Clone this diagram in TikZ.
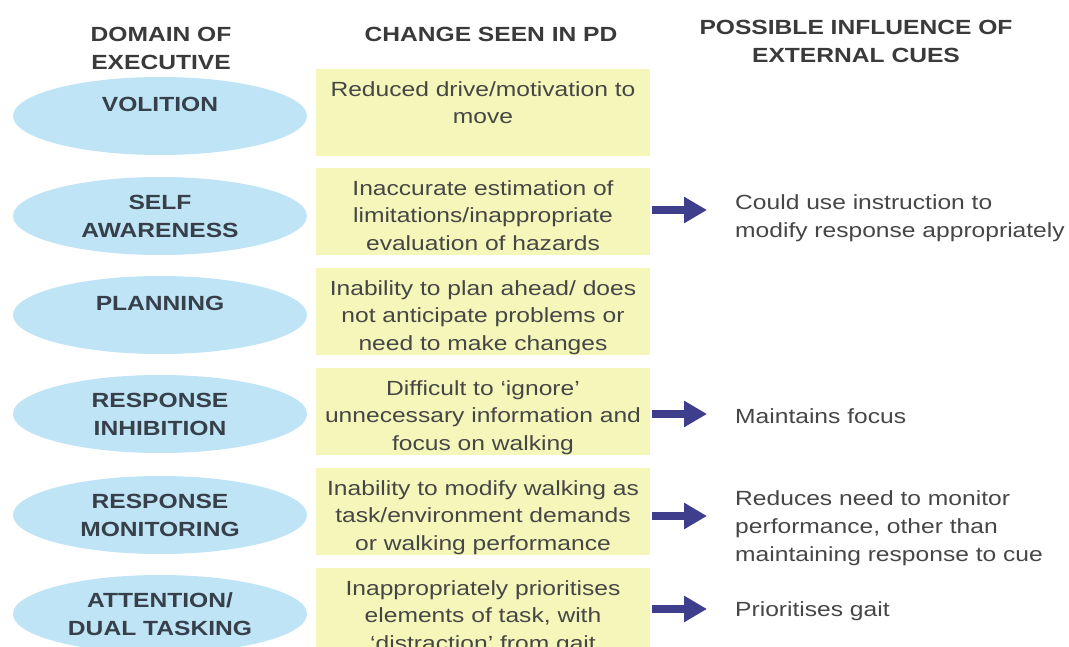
\documentclass[tikz,border=0pt]{standalone}
\usepackage{fontspec}
\setmainfont{Liberation Sans}[FakeStretch=1.2]
\usetikzlibrary{arrows.meta,shapes.geometric}
\definecolor{ellfill}{RGB}{191,228,246}
\definecolor{boxfill}{RGB}{245,247,186}
\definecolor{arrcol}{RGB}{62,62,140}
\definecolor{headtext}{RGB}{58,58,58}
\definecolor{bodytext}{RGB}{70,70,70}
\definecolor{domtext}{RGB}{55,64,74}
\begin{document}
\begin{tikzpicture}[x=1pt,y=-1pt,
  dom/.style={ellipse, fill=ellfill, minimum width=294pt, minimum height=78pt, inner sep=0pt,
    font=\fontsize{20.5}{28}\selectfont\bfseries, text=domtext, align=center},
  domlab/.style={inner sep=0pt, font=\fontsize{20.5}{28}\selectfont\bfseries, text=domtext},
  ybox/.style={rectangle, fill=boxfill, minimum width=334pt, minimum height=87pt, inner sep=0pt},
  boxtext/.style={anchor=north, inner sep=0pt, align=center, font=\fontsize{20.5}{27.5}\selectfont, text=bodytext},
  head/.style={anchor=north, inner sep=0pt, align=center, font=\fontsize{20.5}{28}\selectfont\bfseries, text=headtext},
  cue/.style={anchor=north west, inner sep=0pt, align=left, font=\fontsize{20.5}{28}\selectfont, text=bodytext},
  arr/.style={-{Triangle[length=23pt,width=25pt]}, line width=8pt, draw=arrcol, shorten <=2pt, shorten >=28pt}]
\useasboundingbox (0,0) rectangle (1069,647);
\clip (0,0) rectangle (1069,647);
\fill[white] (0,0) rectangle (1069,647);

% headers
\node[head] (h1) at (161,27.4) {DOMAIN OF\\EXECUTIVE};
\node[head] (h2) at (491,27.4) {CHANGE SEEN IN PD};
\node[head] (h3) at (856,20.4) {POSSIBLE INFLUENCE OF\\EXTERNAL CUES};

% domains
\node[dom] (e1) at (160,116) {};
\node[domlab] (l1) at ([yshift=12pt]e1.center) {VOLITION};
\node[dom] (e2) at (160,216) {SELF\\AWARENESS};
\node[dom] (e3) at (160,315) {};
\node[domlab] (l3) at ([yshift=12pt]e3.center) {PLANNING};
\node[dom] (e4) at (160,414) {RESPONSE\\INHIBITION};
\node[dom] (e5) at (160,515) {RESPONSE\\MONITORING};
\node[dom] (e6) at (160,614) {ATTENTION/\\DUAL TASKING};

% change boxes
\node[ybox] (b1) at (483,112.5) {};
\node[ybox] (b2) at (483,211.5) {};
\node[ybox] (b3) at (483,311.5) {};
\node[ybox] (b4) at (483,411.5) {};
\node[ybox] (b5) at (483,511.5) {};
\node[ybox] (b6) at (483,611.5) {};

\begin{scope}
\clip (b1.north west) rectangle (b1.south east);
\node[boxtext] (t1) at ([yshift=-12.4pt]b1.north) {Reduced drive/motivation to\\move};
\end{scope}
\begin{scope}
\clip (b2.north west) rectangle (b2.south east);
\node[boxtext] (t2) at ([yshift=-12.4pt]b2.north) {Inaccurate estimation of\\limitations/inappropriate\\evaluation of hazards};
\end{scope}
\begin{scope}
\clip (b3.north west) rectangle (b3.south east);
\node[boxtext] (t3) at ([yshift=-12.4pt]b3.north) {Inability to plan ahead/ does\\not anticipate problems or\\need to make changes};
\end{scope}
\begin{scope}
\clip (b4.north west) rectangle (b4.south east);
\node[boxtext] (t4) at ([yshift=-12.4pt]b4.north) {Difficult to ‘ignore’\\unnecessary information and\\focus on walking};
\end{scope}
\begin{scope}
\clip (b5.north west) rectangle (b5.south east);
\node[boxtext] (t5) at ([yshift=-12.4pt]b5.north) {Inability to modify walking as\\task/environment demands\\or walking performance};
\end{scope}
\begin{scope}
\clip (b6.north west) rectangle (b6.south east);
\node[boxtext] (t6) at ([yshift=-12.4pt]b6.north) {Inappropriately prioritises\\elements of task, with\\‘distraction’ from gait};
\end{scope}

% cues
\node[cue] (r2) at (735,194.4) {Could use instruction to\\modify response appropriately};
\node[cue] (r4) at (735,408.4) {Maintains focus};
\node[cue] (r5) at (735,490.4) {Reduces need to monitor\\performance, other than\\maintaining response to cue};
\node[cue] (r6) at (735,601.4) {Prioritises gait};

% arrows
\draw[arr] ([yshift=1.5pt]b2.east) -- ([yshift=1.5pt]b2.east -| r2.west);
\draw[arr] ([yshift=-2.5pt]b4.east) -- ([yshift=-2.5pt]b4.east -| r4.west);
\draw[arr] ([yshift=-4.5pt]b5.east) -- ([yshift=-4.5pt]b5.east -| r5.west);
\draw[arr] ([yshift=2.5pt]b6.east) -- ([yshift=2.5pt]b6.east -| r6.west);
\end{tikzpicture}
\end{document}
